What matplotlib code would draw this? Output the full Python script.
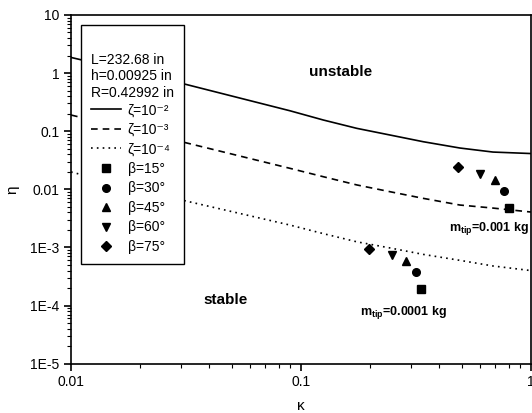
import matplotlib
matplotlib.use('Agg')
import matplotlib.pyplot as plt
from matplotlib.lines import Line2D
from matplotlib.ticker import LogLocator, FixedLocator, NullFormatter

plt.rcParams['font.family'] = ['Liberation Sans', 'DejaVu Sans']
plt.rcParams['mathtext.fontset'] = 'custom'
plt.rcParams['mathtext.rm'] = 'Liberation Sans'
plt.rcParams['mathtext.it'] = 'Liberation Sans:italic'
plt.rcParams['mathtext.bf'] = 'Liberation Sans:bold'

# stability boundaries, kappa vs eta
kappa = [0.01, 0.0303, 0.0895, 0.125, 0.175, 0.244, 0.34, 0.491, 0.684, 1.0]
eta_z2 = [1.86, 0.667, 0.225, 0.156, 0.112, 0.086, 0.066, 0.0514, 0.0438, 0.0413]
eta_z3 = [0.190, 0.0659, 0.0230, 0.0165, 0.0119, 0.0091, 0.0070, 0.00537, 0.00476, 0.00407]
eta_z4 = [0.0199, 0.00655, 0.00243, 0.00173, 0.00125, 0.00098, 0.00076, 0.00060, 0.00048, 0.00040]

# test points: beta = 15, 30, 45, 60, 75 deg
betas = [15, 30, 45, 60, 75]
markers = ['s', 'o', '^', 'v', 'D']
k_hi = [0.80, 0.766, 0.697, 0.600, 0.480]      # m_tip = 0.001 kg
e_hi = [0.00471, 0.00946, 0.0145, 0.0181, 0.0245]
k_lo = [0.333, 0.316, 0.287, 0.248, 0.198]     # m_tip = 0.0001 kg
e_lo = [0.00019, 0.00038, 0.00058, 0.00074, 0.00094]

fig = plt.figure(figsize=(5.32, 4.13), dpi=100)
ax = fig.add_axes([0.1335, 0.1194, 0.8645, 0.8443])

ax.plot(kappa, eta_z2, '-', color='black', lw=1.2)
ax.plot(kappa, eta_z3, color='black', lw=1.2, ls=(0, (4, 3)))
ax.plot(kappa, eta_z4, color='black', lw=1.2, ls=(0, (1, 2.5)))
for i in range(5):
    ax.plot(k_hi[i], e_hi[i], marker=markers[i], color='black', ms=5.5, ls='none')
    ax.plot(k_lo[i], e_lo[i], marker=markers[i], color='black', ms=5.5, ls='none')

ax.set_xscale('log')
ax.set_yscale('log')
ax.set_xlim(0.01, 1)
ax.set_ylim(1e-5, 10)

ax.xaxis.set_major_locator(FixedLocator([0.01, 0.1, 1]))
ax.set_xticklabels(['0.01', '0.1', '1'])
ax.xaxis.set_minor_locator(LogLocator(base=10, subs=range(2, 10)))
ax.xaxis.set_minor_formatter(NullFormatter())
ax.yaxis.set_major_locator(FixedLocator([1e-5, 1e-4, 1e-3, 0.01, 0.1, 1, 10]))
ax.set_yticklabels(['1E-5', '1E-4', '1E-3', '0.01', '0.1', '1', '10'])
ax.yaxis.set_minor_locator(LogLocator(base=10, subs=range(2, 10)))
ax.yaxis.set_minor_formatter(NullFormatter())
ax.tick_params(which='major', direction='out', length=5, width=1.2, labelsize=10)
ax.tick_params(which='minor', direction='out', length=3, width=0.8)
for s in ax.spines.values():
    s.set_linewidth(1.2)

ax.set_xlabel('κ', fontsize=11, labelpad=7)
ax.set_ylabel('η', fontsize=11, labelpad=8)

ax.text(0.148, 1.04, 'unstable', fontsize=11, fontweight='bold', ha='center', va='center')
ax.text(0.047, 1.24e-4, 'stable', fontsize=11, fontweight='bold', ha='center', va='center')
ax.text(0.44, 0.0021, r'm$_{\mathbf{tip}}$=0.001 kg', fontsize=9, fontweight='bold', ha='left', va='center')
ax.text(0.181, 7.7e-5, r'm$_{\mathbf{tip}}$=0.0001 kg', fontsize=9, fontweight='bold', ha='left', va='center')

handles = [Line2D([], [], color='black', lw=1.2, ls='-'),
           Line2D([], [], color='black', lw=1.2, ls=(0, (4, 3))),
           Line2D([], [], color='black', lw=1.2, ls=(0, (1, 2.5)))]
labels = ['ζ=10⁻²', 'ζ=10⁻³', 'ζ=10⁻⁴']
for b, m in zip(betas, markers):
    handles.append(Line2D([], [], color='black', marker=m, ms=5.5, ls='none'))
    labels.append('β=%d°' % b)

leg = ax.legend(handles, labels, loc='upper left', bbox_to_anchor=(0.0217, 0.9713),
                borderaxespad=0, fontsize=10, title='\nL=232.68 in\nh=0.00925 in\nR=0.42992 in',
                title_fontsize=10, alignment='left', fancybox=False, edgecolor='black',
                framealpha=1, handlelength=2.15, handletextpad=0.5, labelspacing=0.4,
                borderpad=0.72)
leg.get_frame().set_linewidth(1.0)
leg.get_title().set_y(-2)

fig.savefig('out.png', dpi=100)
